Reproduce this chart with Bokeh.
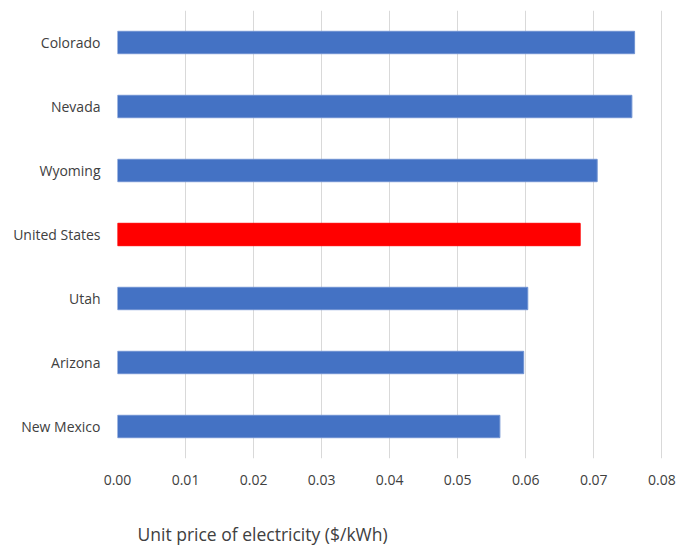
from bokeh.plotting import figure
from bokeh.models import FactorRange, Range1d, NumeralTickFormatter, SingleIntervalTicker, Title, ColumnDataSource
from bokeh.embed import file_html
from bokeh.resources import INLINE

# Unit electricity price by state, top to bottom
states = ["Colorado", "Nevada", "Wyoming", "United States", "Utah", "Arizona", "New Mexico"]
prices = [0.0760, 0.0756, 0.0705, 0.0680, 0.0603, 0.0597, 0.0562]
colors = ["#4472C4", "#4472C4", "#4472C4", "#FF0000", "#4472C4", "#4472C4", "#4472C4"]
edges = ["#6f92d2", "#6f92d2", "#6f92d2", "#FF0000", "#6f92d2", "#6f92d2", "#6f92d2"]
x_title = "Unit price of electricity ($/kWh)"

src = ColumnDataSource(dict(state=states, price=prices, color=colors, edge=edges))

p = figure(
    width=677, height=551,
    y_range=FactorRange(factors=list(reversed(states)), range_padding=0),
    x_range=Range1d(0, 0.0801),
    output_backend="svg", toolbar_location=None,
    min_border_left=117, min_border_right=15, min_border_top=10, min_border_bottom=93,
)
p.outline_line_color = None

p.hbar(y="state", right="price", left=0, height=0.35, fill_color="color",
       line_color="edge", line_width=1, source=src)

font = "Open Sans"
p.xaxis.ticker = SingleIntervalTicker(interval=0.01)
p.xaxis.formatter = NumeralTickFormatter(format="0.00")
for ax in (p.xaxis, p.yaxis):
    ax.axis_line_color = None
    ax.major_tick_line_color = None
    ax.minor_tick_line_color = None
    ax.major_label_text_font = font
    ax.major_label_text_font_size = "14px"
    ax.major_label_text_color = "#404040"
p.xaxis.major_label_standoff = 10
p.yaxis.major_label_standoff = 11

p.xgrid.grid_line_color = "#d9d9d9"
p.xgrid.grid_line_width = 1
p.ygrid.grid_line_color = None

# blank spacer between tick labels and the x-axis title
p.add_layout(Title(text=" ", standoff=25, text_font_size="1px"), "below")
# x-axis title, left-aligned under the plot area
p.add_layout(Title(text=x_title, align="left", offset=20, standoff=8,
                   text_font=font, text_font_size="17.5px", text_font_style="normal",
                   text_color="#404040"), "below")

open("out.html", "w").write(file_html(p, INLINE))
